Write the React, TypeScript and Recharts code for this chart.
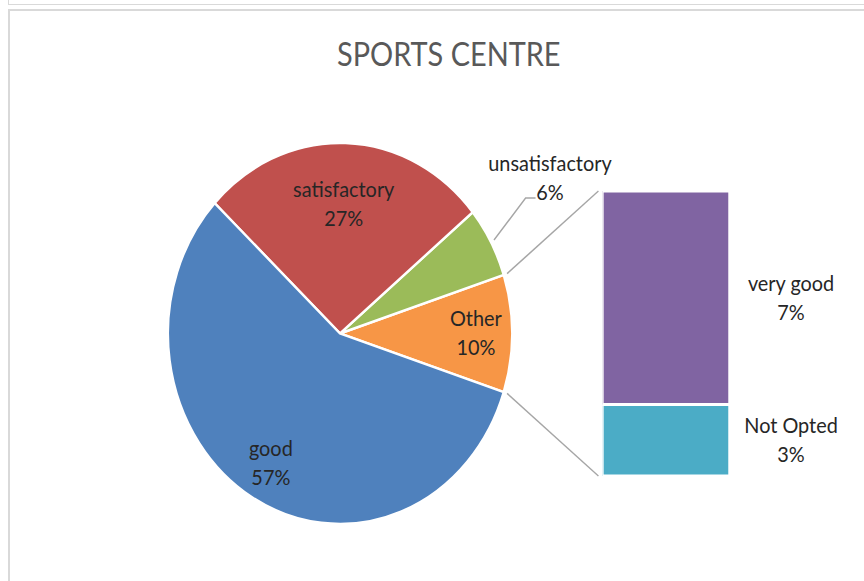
import React from "react";
import { PieChart, Pie, Cell, BarChart, Bar, XAxis, YAxis, LabelList } from "recharts";

// pie slices (Other is the sum of the bar breakdown)
const pieNames = ["unsatisfactory", "satisfactory", "good"];
const pieValues = [6, 27, 57];
// breakdown of "Other", bottom to top
const barNames = ["Not Opted", "very good"];
const barValues = [2.5, 7.45];

const otherValue = barValues.reduce((a, b) => a + b, 0);
const total = otherValue + pieValues.reduce((a, b) => a + b, 0);
const pieData = [{ name: "Other", value: otherValue }, ...pieNames.map((n, i) => ({ name: n, value: pieValues[i] }))];
const barRow: Record<string, any> = { name: "Other" };
barNames.forEach((n, i) => (barRow[n] = barValues[i]));

const COLORS: Record<string, string> = {
  good: "#4f81bd", satisfactory: "#c0504d", unsatisfactory: "#9bbb59", Other: "#f79646",
  "very good": "#8064a2", "Not Opted": "#4bacc6",
};

// the reference is squeezed horizontally, draw wide and scale down
const SX = 0.903;
const W = 957;
const H = 581;
const FONT = "Lato, 'Liberation Sans', sans-serif";
const TEXT = "#262626";
const LABEL_SIZE = 22;

const PIE_CX = 376.5, PIE_CY = 333.5, PIE_R = 190.5;
const BAR_X = 666.7, BAR_TOP = 191, BAR_H = 285, BAR_W = 140.6;
const LABEL_R: Record<string, number> = { satisfactory: 0.68, good: 0.79, Other: 0.79 };
const startAngle = -(otherValue / total) * 180;

const RAD = Math.PI / 180;
const polar = (cx: number, cy: number, r: number, a: number) => ({
  x: cx + r * Math.cos(-a * RAD), y: cy + r * Math.sin(-a * RAD),
});

function TwoLine({ x, y, a, b }: { x: number; y: number; a: string; b: string }) {
  return (
    <text textAnchor="middle" fill={TEXT} fontFamily={FONT} fontSize={LABEL_SIZE}>
      <tspan x={x} y={y - 7}>{a}</tspan>
      <tspan x={x} y={y + 22}>{b}</tspan>
    </text>
  );
}

const renderPieLabel = (p: any) => {
  const name = p.payload?.name ?? p.name;
  const pct = `${Math.round(p.percent * 100)}%`;
  const cx = Number(p.cx), cy = Number(p.cy), r = Number(p.outerRadius);
  if (name === "unsatisfactory") {
    const p0 = polar(cx, cy, r + 4, p.midAngle);
    const ex = p0.x + 35, ey = p0.y - 42;
    return (
      <g>
        <polyline points={`${p0.x},${p0.y} ${ex},${ey} ${ex + 11},${ey}`} fill="none" stroke="#a6a6a6" strokeWidth={1.6} />
        <text textAnchor="middle" fill={TEXT} fontFamily={FONT} fontSize={LABEL_SIZE}>
          <tspan x={ex + 27} y={ey - 27}>{name}</tspan>
          <tspan x={ex + 27} y={ey + 2}>{pct}</tspan>
        </text>
      </g>
    );
  }
  const c = polar(cx, cy, r * (LABEL_R[name] ?? 0.75), p.midAngle);
  if (name === "Other") {
    const top = polar(cx, cy, r + 4, p.endAngle);
    const bot = polar(cx, cy, r + 4, p.startAngle);
    return (
      <g>
        <line x1={top.x} y1={top.y} x2={BAR_X - 4} y2={BAR_TOP} stroke="#a6a6a6" strokeWidth={1.6} />
        <line x1={bot.x} y1={bot.y} x2={BAR_X - 4} y2={BAR_TOP + BAR_H} stroke="#a6a6a6" strokeWidth={1.6} />
        <TwoLine x={c.x} y={c.y} a={name} b={pct} />
      </g>
    );
  }
  return <TwoLine x={c.x} y={c.y} a={name} b={pct} />;
};

const barLabel = (name: string) => (p: any) => {
  const x = Number(p.x) + Number(p.width) + 68;
  const y = Number(p.y) + Number(p.height) / 2;
  return <TwoLine x={x} y={y} a={name} b={`${Math.round((Number(p.value) / total) * 100)}%`} />;
};

export default function App() {
  return (
    <div style={{ position: "absolute", left: 0, top: 0, width: 864, height: 581, overflow: "hidden", background: "#fff" }}>
      <div style={{ position: "absolute", left: 8, top: -20, width: 900, height: 23, border: "1px solid #d9d9d9" }} />
      <div style={{ position: "absolute", left: 8, top: 9, width: 900, height: 620, borderLeft: "2px solid #d9d9d9", borderTop: "2px solid #d9d9d9" }} />
      <div style={{ position: "absolute", left: 0, top: 0, width: W, height: H, transform: `scaleX(${SX})`, transformOrigin: "0 0" }}>
        <div style={{
          position: "absolute", left: 297, top: 38, width: 400, textAlign: "center",
          fontFamily: FONT, fontSize: 32, lineHeight: "32px", color: "#595959",
        }}>
          SPORTS CENTRE
        </div>
        <div style={{ position: "absolute", left: 0, top: 0 }}>
          <PieChart width={W} height={H} margin={{ top: 0, right: 0, bottom: 0, left: 0 }}>
            <Pie
              data={pieData} dataKey="value" nameKey="name"
              cx={PIE_CX} cy={PIE_CY} outerRadius={PIE_R}
              startAngle={startAngle} endAngle={startAngle + 360}
              stroke="#fff" strokeWidth={2.5}
              label={renderPieLabel} labelLine={false} isAnimationActive={false}
            >
              {pieData.map((d) => <Cell key={d.name} fill={COLORS[d.name]} />)}
            </Pie>
          </PieChart>
        </div>
        <div style={{ position: "absolute", left: BAR_X, top: BAR_TOP }}>
          <BarChart width={BAR_W + 170} height={BAR_H} data={[barRow]} barCategoryGap={0}
            margin={{ top: 0, right: 170, bottom: 0, left: 0 }}>
            <XAxis dataKey="name" hide />
            <YAxis hide domain={[0, otherValue]} />
            {barNames.map((n) => (
              <Bar key={n} dataKey={n} stackId="a" fill={COLORS[n]} stroke="#fff" strokeWidth={3} isAnimationActive={false}>
                <LabelList dataKey={n} content={barLabel(n)} />
              </Bar>
            ))}
          </BarChart>
        </div>
      </div>
    </div>
  );
}
